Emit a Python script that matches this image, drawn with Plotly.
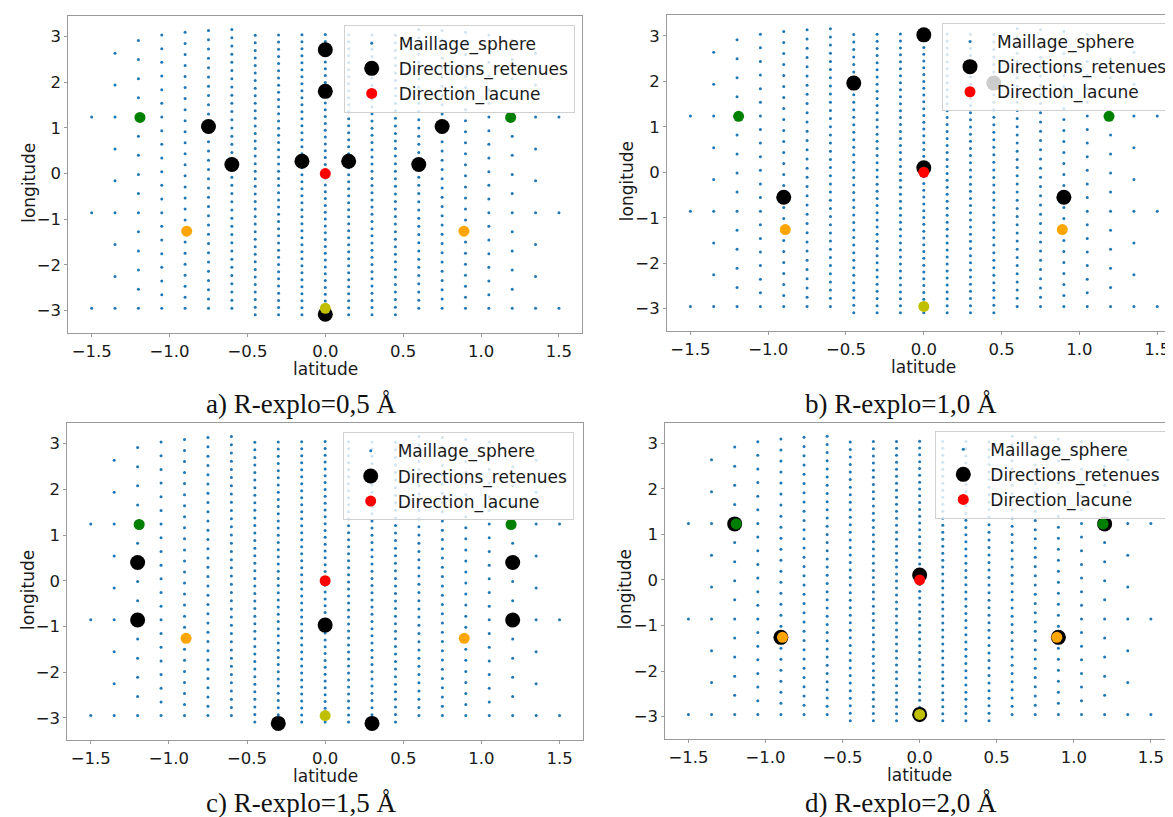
import math
import plotly.graph_objects as go

W, H = 1173, 817

# ---- sphere mesh: one column per latitude ----
mesh_lat = [-1.5, -1.35, -1.2, -1.05, -0.9, -0.75, -0.6, -0.45, -0.3, -0.15, 0.0,
            0.15, 0.3, 0.45, 0.6, 0.75, 0.9, 1.05, 1.2, 1.35, 1.5]
mesh_count = [3, 9, 15, 21, 26, 31, 35, 38, 40, 41, 42, 41, 40, 38, 35, 31, 26, 21, 15, 9, 3]
mesh_lon_start = [-2.95, -2.95, -2.95, -2.95, -2.95, -2.95, -2.95, -3.09, -3.09, -3.09, -3.09,
                  -3.09, -3.09, -3.09, -2.95, -2.95, -2.95, -2.95, -2.95, -2.95, -2.95]

# ---- fixed reference directions (same in every panel) ----
lacune_lat = [0.0]
lacune_lon = [0.0]
green_lat = [-1.19, 1.19]
green_lon = [1.23, 1.23]
orange_lat = [-0.89, 0.89]
orange_lon = [-1.26, -1.26]
olive_lat = [0.0]
olive_lon = [-2.95]

# ---- retained directions per panel ----
a_ret_lat = [0.0, 0.0, -0.75, 0.75, -0.6, 0.6, -0.15, 0.15, 0.0]
a_ret_lon = [2.71, 1.80, 1.03, 1.03, 0.20, 0.20, 0.27, 0.27, -3.08]
b_ret_lat = [0.0, -0.45, 0.45, 0.0, -0.9, 0.9]
b_ret_lon = [3.02, 1.96, 1.96, 0.10, -0.55, -0.55]
c_ret_lat = [-1.2, 1.2, -1.2, 1.2, 0.0, -0.3, 0.3]
c_ret_lon = [0.40, 0.40, -0.86, -0.86, -0.97, -3.12, -3.12]
d_ret_lat = [-1.2, 1.2, -0.9, 0.9, 0.0, 0.0]
d_ret_lon = [1.23, 1.23, -1.26, -1.26, -2.95, 0.11]

captions = ["a) R-explo=0,5 Å", "b) R-explo=1,0 Å", "c) R-explo=1,5 Å", "d) R-explo=2,0 Å"]
x_ticks = [-1.5, -1.0, -0.5, 0.0, 0.5, 1.0, 1.5]
y_ticks = [-3, -2, -1, 0, 1, 2, 3]

# build mesh points
mesh_x, mesh_y = [], []
for lat, n, s in zip(mesh_lat, mesh_count, mesh_lon_start):
    for j in range(n):
        mesh_x.append(lat)
        mesh_y.append(s + 2 * math.pi * j / n)

# panel geometry in pixels: (left, right, top, bottom)
panels = [
    (60.3, 574.3, 8.0, 325.0),
    (659.0, 1172.6, 7.3, 323.0),
    (59.3, 575.0, 415.0, 732.3),
    (657.3, 1166.0, 414.7, 731.0),
]
legend_px = [  # right, top
    (566.7, 16.7),
    (1165.0, 15.0),
    (565.7, 424.3),
    (1158.3, 422.7),
]
caption_px = [(292.5, 395.5), (893.0, 395.5), (293.0, 795.0), (893.0, 795.0)]
retained = [(a_ret_lat, a_ret_lon), (b_ret_lat, b_ret_lon), (c_ret_lat, c_ret_lon), (d_ret_lat, d_ret_lon)]

FONT = "DejaVu Sans"
AXC = "#9a9a9a"
TXT = "#1a1a1a"
fig = go.Figure()
layout = dict(
    width=W, height=H, margin=dict(l=0, r=0, t=0, b=0),
    paper_bgcolor="white", plot_bgcolor="white",
    font=dict(family=FONT, size=17, color=TXT),
    showlegend=True, annotations=[],
)

for i in range(4):
    k = "" if i == 0 else str(i + 1)
    xa, ya = "x" + k, "y" + k
    lg = "legend" + k
    ret_lat, ret_lon = retained[i]
    fig.add_trace(go.Scatter(x=mesh_x, y=mesh_y, mode="markers", name="Maillage_sphere",
                             marker=dict(size=3, color="#1f77b4"), xaxis=xa, yaxis=ya, legend=lg))
    fig.add_trace(go.Scatter(x=ret_lat, y=ret_lon, mode="markers", name="Directions_retenues",
                             marker=dict(size=15, color="black"), xaxis=xa, yaxis=ya, legend=lg))
    fig.add_trace(go.Scatter(x=lacune_lat, y=lacune_lon, mode="markers", name="Direction_lacune",
                             marker=dict(size=11, color="red"), xaxis=xa, yaxis=ya, legend=lg))
    fig.add_trace(go.Scatter(x=green_lat, y=green_lon, mode="markers", showlegend=False,
                             marker=dict(size=11, color="green"), xaxis=xa, yaxis=ya))
    fig.add_trace(go.Scatter(x=orange_lat, y=orange_lon, mode="markers", showlegend=False,
                             marker=dict(size=11, color="orange"), xaxis=xa, yaxis=ya))
    fig.add_trace(go.Scatter(x=olive_lat, y=olive_lon, mode="markers", showlegend=False,
                             marker=dict(size=11, color="#bfbf00"), xaxis=xa, yaxis=ya))

    l, r, t, b = panels[i]
    common = dict(showgrid=False, zeroline=False, showline=True, mirror=True,
                  linecolor=AXC, linewidth=1, ticks="outside", ticklen=3, tickcolor=AXC,
                  tickfont=dict(size=16.5, family=FONT, color=TXT))
    layout["xaxis" + k] = dict(common, domain=[l / W, r / W], range=[-1.65, 1.65],
                               tickvals=x_ticks, tickformat=".1f", anchor=ya)
    layout["yaxis" + k] = dict(common, domain=[1 - b / H, 1 - t / H], range=[-3.49, 3.45],
                               tickvals=y_ticks, anchor=xa)
    lr, lt = legend_px[i]
    layout[lg] = dict(x=lr / W, y=1 - lt / H, xanchor="right", yanchor="top",
                      bgcolor="rgba(255,255,255,0.8)", bordercolor="#d0d0d0", borderwidth=1,
                      font=dict(size=17, family=FONT, color=TXT), itemwidth=44)
    # axis titles
    layout["annotations"].append(dict(text="latitude", xref="paper", yref="paper",
                                      x=(l + r) / 2 / W, y=1 - (b + 36) / H, showarrow=False,
                                      xanchor="center", yanchor="middle",
                                      font=dict(size=17, family=FONT, color=TXT)))
    layout["annotations"].append(dict(text="longitude", xref="paper", yref="paper",
                                      x=(l - 40) / W, y=1 - ((t + b) / 2 + 8) / H, showarrow=False,
                                      textangle=-90, xanchor="center", yanchor="middle",
                                      font=dict(size=17, family=FONT, color=TXT)))
    cx, cy = caption_px[i]
    layout["annotations"].append(dict(text=captions[i], xref="paper", yref="paper",
                                      x=cx / W, y=1 - cy / H, showarrow=False,
                                      xanchor="center", yanchor="middle",
                                      font=dict(size=27, family="Liberation Serif", color="#111111")))

fig.update_layout(**layout)
fig.write_html("out.html")
